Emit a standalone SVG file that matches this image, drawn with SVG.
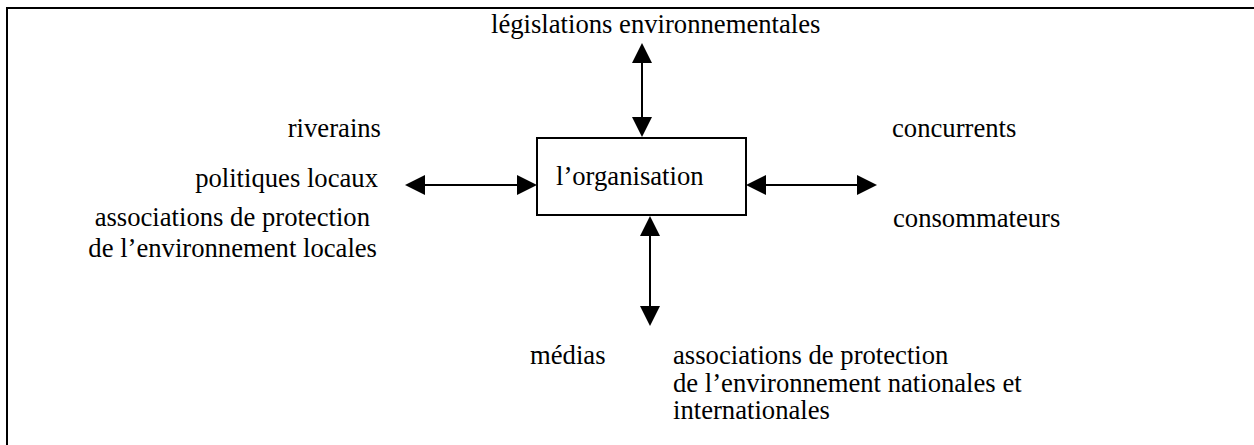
<svg xmlns="http://www.w3.org/2000/svg" width="1254" height="445" viewBox="0 0 1254 445">
<style>
text{font-family:"Liberation Serif","Times New Roman",serif;font-size:26.67px;fill:#000}
.frame{fill:none;stroke:#000;stroke-width:2}
.box{fill:#fff;stroke:#000;stroke-width:2}
.conn{stroke:#000;stroke-width:2;fill:none;marker-start:url(#ah);marker-end:url(#ah)}
</style>
<defs>
<marker id="ah" markerUnits="userSpaceOnUse" markerWidth="20" markerHeight="20" refX="18" refY="10" orient="auto-start-reverse">
<path d="M0,0 L20,10 L0,20 z" fill="#000"/>
</marker>
</defs>
<rect width="1254" height="445" fill="#fff"/>
<path class="frame" d="M7,447 V8 H1256"/>
<g id="connectors">
<line class="conn" x1="642" y1="45" x2="642" y2="135"/>
<line class="conn" x1="407" y1="185" x2="535" y2="185"/>
<line class="conn" x1="748" y1="185" x2="875" y2="185"/>
<line class="conn" x1="650" y1="218" x2="650" y2="324"/>
</g>
<g id="organisation">
<rect class="box" x="537" y="138" width="209" height="77"/>
<text x="556" y="185">l’organisation</text>
</g>
<g id="legislations">
<text x="491" y="33">législations environnementales</text>
</g>
<g id="local">
<text x="381" y="137" text-anchor="end">riverains</text>
<text x="378" y="187" text-anchor="end">politiques locaux</text>
<text x="370" y="226" text-anchor="end">associations de protection</text>
<text x="377" y="257" text-anchor="end">de l’environnement locales</text>
</g>
<g id="marche">
<text x="892" y="137">concurrents</text>
<text x="893" y="227">consommateurs</text>
</g>
<g id="medias">
<text x="530" y="364">médias</text>
</g>
<g id="associations-nationales">
<text x="673" y="364">associations de protection</text>
<text x="673" y="392">de l’environnement nationales et</text>
<text x="673" y="419">internationales</text>
</g>
</svg>
